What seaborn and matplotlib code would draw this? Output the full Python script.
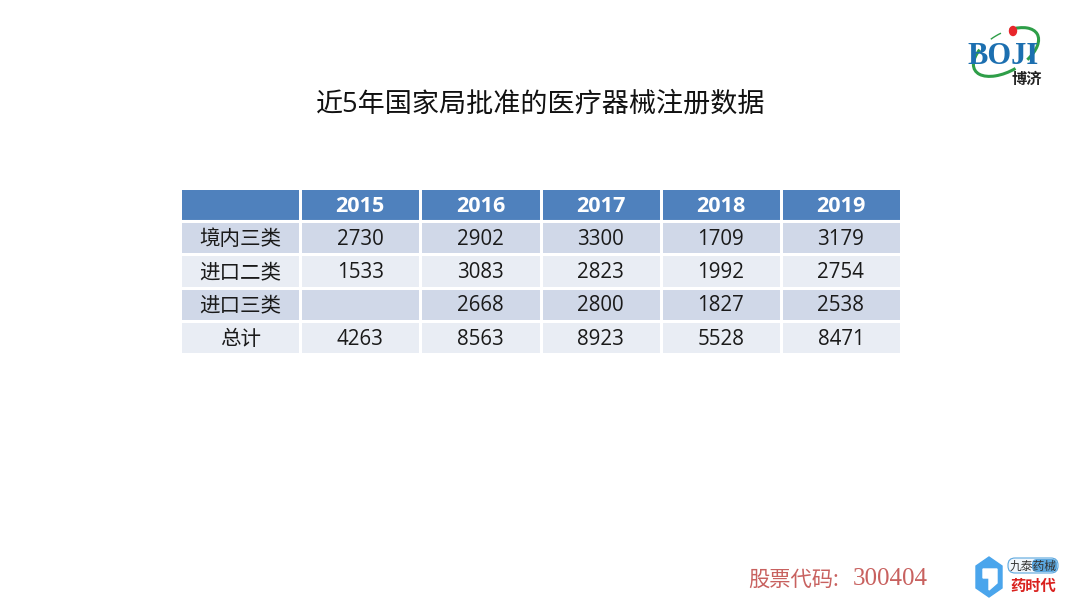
import numpy as np
import pandas as pd
import matplotlib
matplotlib.use("Agg")
import matplotlib.pyplot as plt
from matplotlib.colors import ListedColormap
from matplotlib.patches import Arc, Ellipse, Polygon, FancyBboxPatch
import seaborn as sns

sns.set_theme(style="white")
plt.rcParams['font.family'] = ['Open Sans', 'Noto Sans CJK SC', 'DejaVu Sans']
CJK = ['Noto Sans CJK SC', 'DejaVu Sans']

title = "近5年国家局批准的医疗器械注册数据"
years = ["2015", "2016", "2017", "2018", "2019"]
row_names = ["境内三类", "进口二类", "进口三类", "总计"]
domestic3 = ["2730", "2902", "3300", "1709", "3179"]
import2 = ["1533", "3083", "2823", "1992", "2754"]
import3 = ["", "2668", "2800", "1827", "2538"]
total = ["4263", "8563", "8923", "5528", "8471"]
stock = "股票代码:300404"

W, H = 1080, 607
fig = plt.figure(figsize=(W / 100, H / 100), dpi=100, facecolor="white")

# table drawn as a heatmap: band colours by row, text as annotations
body = [domestic3, import2, import3, total]
labels = [[""] + years] + [[n] + r for n, r in zip(row_names, body)]
labels = pd.DataFrame(labels)
bands = np.array([[i if i == 0 else 2 - (i % 2) for _ in range(labels.shape[1])]
                  for i in range(labels.shape[0])])

ax = fig.add_axes([180 / W, 1 - 354 / H, 721 / W, 166 / H])
sns.heatmap(bands, ax=ax, cmap=ListedColormap(["#4F81BD", "#D0D8E8", "#E9EDF4"]),
            vmin=0, vmax=2, cbar=False, linewidths=0.75, linecolor="white",
            annot=labels.values, fmt="", xticklabels=False, yticklabels=False,
            annot_kws={"fontsize": 14.8, "color": "#1a1a1a"})
for t in ax.texts:
    t.set_y(t.get_position()[1] + 0.05)
    if t.get_text() in years:
        t.set_color("white")
        t.set_fontweight("bold")
        t.set_fontsize(15.6)
ax.axhline(1, color="white", lw=1.5)

# overlay axes in pixel coordinates for title, footer and logos
ov = fig.add_axes([0, 0, 1, 1], facecolor="none")
ov.set_xlim(0, W)
ov.set_ylim(H, 0)
ov.axis("off")
ov.text(540.5, 105, title, ha="center", va="center", fontsize=19.5, color="#111111",
        family=['Open Sans', 'Noto Sans CJK SC'])
ov.text(748, 580, stock[:5], ha="left", va="center", fontsize=15.3, color="#C8615F", family=CJK)
ov.text(853, 579, stock[5:], ha="left", va="center", fontsize=18, color="#C8615F",
        family="Liberation Serif")

# BOJI logo
green = "#2E9E48"
centre = (1006, 52)
for t1, t2, lw in [(-50, 50, 2.2), (90, 215, 2.2), (250, 285, 1.0)]:
    ov.add_patch(Arc(centre, 72, 38, angle=-30, theta1=t1, theta2=t2, color=green, lw=lw))
ov.add_patch(Ellipse((1013, 31), 7, 9, color="#E8262B", zorder=4))
ov.text(1003, 56, "BOJI", ha="center", va="center", fontsize=22, fontweight="bold",
        color="#1C6FB0", family="Liberation Serif", zorder=3)
ov.text(1027, 79, "博济", ha="center", va="center", fontsize=11, color="#222222",
        fontweight="bold", family=CJK, zorder=5)

# footer logo
ov.add_patch(Polygon([(976, 566), (989, 557), (1002, 566), (1002, 588), (989, 597), (976, 588)],
                     closed=True, color="#4AA5EC"))
ov.add_patch(Polygon([(983, 569), (997, 569), (997, 583), (989, 590), (989, 578), (983, 578)],
                     closed=True, color="white"))
ov.add_patch(FancyBboxPatch((1008, 558), 50, 15, boxstyle="round,pad=0,rounding_size=7",
                            fc="#F2F7FC", ec="#5BA7DE", lw=0.8))
ov.add_patch(FancyBboxPatch((1032, 559), 25, 13, boxstyle="round,pad=0,rounding_size=5",
                            fc="#5BA7DE", ec="none"))
ov.text(1033, 566, "九泰药械", ha="center", va="center", fontsize=8.5, color="#333333", family=CJK)
ov.text(1033, 586, "药时代", ha="center", va="center", fontsize=11, color="#D9211E",
        fontweight="bold", family=CJK)

fig.savefig("out.png", dpi=100, facecolor="white")
